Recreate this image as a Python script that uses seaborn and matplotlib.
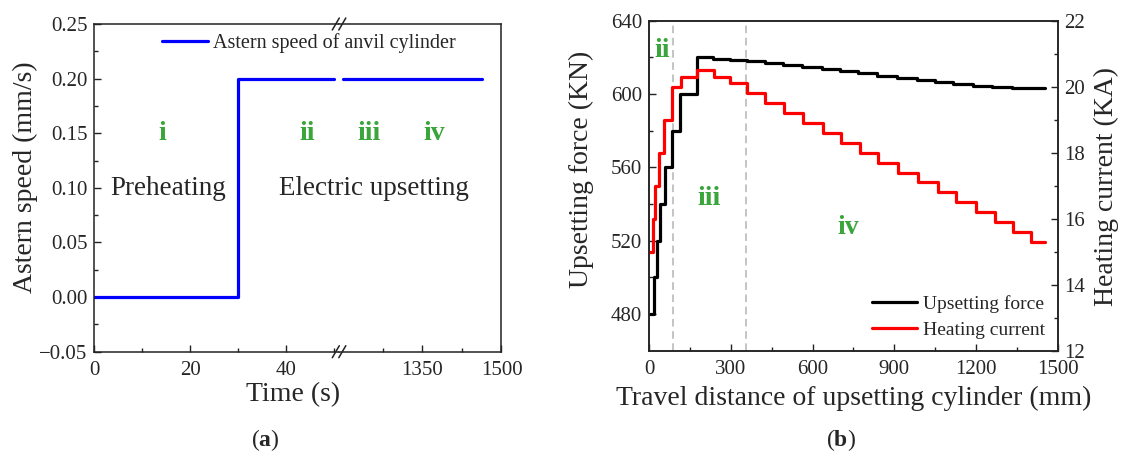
import numpy as np
import pandas as pd
import matplotlib
matplotlib.use("Agg")
import matplotlib.pyplot as plt
from matplotlib.lines import Line2D
from matplotlib.ticker import MultipleLocator, FixedLocator, FuncFormatter
import seaborn as sns

# ---------------- data ----------------
# panel (a): astern speed of anvil cylinder (broken time axis)
time_left = [0, 30, 50]
speed_left = [0.0, 0.2, 0.2]
time_right = [1200, 1463]
speed_right = [0.2, 0.2]

# panel (b): step curves vs travel distance
force_x = [2, 19, 30, 40, 57, 84, 113, 175, 236, 297, 358, 425, 493, 560, 634,
           701, 768, 836, 909, 983, 1050, 1117, 1191, 1258, 1332, 1455]
force = [480, 500, 520, 540, 560, 580, 600, 620, 619.3, 618.6, 617.8, 616.8,
         615.8, 614.7, 613.6, 612.6, 611.3, 610.0, 608.9, 607.8, 606.7, 605.6,
         604.5, 603.7, 603.1, 603.1]
current_x = [2, 13, 21, 36, 54, 85, 117, 177, 238, 297, 358, 425, 495, 566, 637,
             704, 775, 842, 915, 987, 1060, 1126, 1199, 1272, 1337, 1404, 1455]
current = [15.0, 16.0, 17.0, 18.0, 19.0, 20.0, 20.3, 20.5, 20.3, 20.1, 19.8,
           19.5, 19.2, 18.9, 18.6, 18.3, 18.0, 17.7, 17.4, 17.1, 16.8, 16.5,
           16.2, 15.9, 15.6, 15.3, 15.3]
stage_bounds = [86, 356]

# ---------------- style ----------------
sns.set_theme(style="ticks")
plt.rcParams["font.family"] = ["Liberation Serif", "DejaVu Serif"]
plt.rcParams["mathtext.fontset"] = "custom"
plt.rcParams["mathtext.rm"] = "Liberation Serif"
plt.rcParams["mathtext.bf"] = "Liberation Serif:bold"
plt.rcParams["axes.linewidth"] = 1.1
plt.rcParams["axes.edgecolor"] = "#222222"

W, H = 1121, 454
fig = plt.figure(figsize=(W / 100, H / 100), dpi=100)

def fx(px):
    return px / W

def fy(py):
    return 1 - py / H

GREEN = "#3aa53a"
TICK_FS = 15
LABEL_FS = 20

def style_ticks(ax):
    ax.tick_params(axis="both", which="major", direction="in", length=5, width=1.0,
                   labelsize=TICK_FS, pad=5, color="#222222")
    ax.tick_params(axis="x", which="major", pad=7)
    ax.tick_params(axis="both", which="minor", direction="in", length=3, width=1.0,
                   color="#222222")

# ---------------- panel (a) ----------------
a_left, a_break, a_right = 94.3, 339.3, 501.5
a_top, a_bot = 24.0, 351.7
ax1 = fig.add_axes([fx(a_left), fy(a_bot), fx(a_break - a_left), (a_bot - a_top) / H])
ax2 = fig.add_axes([fx(a_break), fy(a_bot), fx(a_right - a_break), (a_bot - a_top) / H])

df_al = pd.DataFrame({"t": time_left, "v": speed_left})
df_ar = pd.DataFrame({"t": time_right, "v": speed_right})
sns.lineplot(data=df_al, x="t", y="v", ax=ax1, color="#0000ff", lw=2.3,
             drawstyle="steps-post", estimator=None, sort=False, legend=False)
sns.lineplot(data=df_ar, x="t", y="v", ax=ax2, color="#0000ff", lw=2.3,
             drawstyle="steps-post", estimator=None, sort=False, legend=False)

for ax in (ax1, ax2):
    ax.set_ylim(-0.05, 0.25)
    style_ticks(ax)
    ax.set_xlabel("")
    ax.set_ylabel("")

ax1.set_xlim(0, 51)
ax1.xaxis.set_major_locator(FixedLocator([0, 20, 40]))
ax1.xaxis.set_minor_locator(FixedLocator([10, 30, 50]))
ax1.yaxis.set_major_locator(MultipleLocator(0.05))
ax1.yaxis.set_minor_locator(MultipleLocator(0.025))
ax1.yaxis.set_major_formatter(FuncFormatter(lambda v, p: f"{v:.2f}".replace("-", "\u2212")))
ax1.spines["right"].set_visible(False)
ax1.tick_params(top=False, right=False, which="both")

ax2.set_xlim(1193, 1500)
ax2.xaxis.set_major_locator(FixedLocator([1350, 1500]))
ax2.xaxis.set_minor_locator(FixedLocator([1275, 1425]))
ax2.spines["left"].set_visible(False)
ax2.tick_params(top=False, right=False, which="both")
ax2.tick_params(axis="y", which="both", left=False, right=False, labelleft=False)

# break marks
for py in (a_top, a_bot):
    for off in (-3.5, 3.0):
        cx = a_break + off
        fig.add_artist(Line2D([fx(cx - 3.5), fx(cx + 3.5)], [fy(py + 6), fy(py - 6)],
                              color="#222222", lw=1.1))

ax1.set_ylabel("Astern speed (mm/s)", fontsize=LABEL_FS)
ax1.yaxis.set_label_coords((25 - a_left) / (a_break - a_left), (a_bot - 177) / (a_bot - a_top))
ax1.yaxis.label.set_verticalalignment("center")
ax1.set_xlabel("Time (s)", fontsize=LABEL_FS)
ax1.xaxis.set_label_coords((293.3 - a_left) / (a_break - a_left), (a_bot - 395) / (a_bot - a_top))
ax1.xaxis.label.set_verticalalignment("center")

fig.legend(handles=[ax1.get_lines()[0]], labels=["Astern speed of anvil cylinder"],
           loc="center left", bbox_to_anchor=(fx(162), fy(43)), frameon=False,
           fontsize=14.5, handlelength=2.3, handletextpad=0.25,
           borderpad=0, borderaxespad=0)

ax1.text(14.1, 0.15, "i", color=GREEN, fontsize=20, fontweight="bold", ha="center", va="center")
ax1.text(44.4, 0.15, "ii", color=GREEN, fontsize=20, fontweight="bold", ha="center", va="center")
ax2.text(1249, 0.15, "iii", color=GREEN, fontsize=20, fontweight="bold", ha="center", va="center")
ax2.text(1372, 0.15, "iv", color=GREEN, fontsize=20, fontweight="bold", ha="center", va="center")
ax1.text(15.3, 0.099, "Preheating", fontsize=19.5, ha="center", va="center")
ax2.text(1258.6, 0.099, "Electric upsetting", fontsize=19.5, ha="center", va="center")

fig.text(fx(265), fy(440), r"($\mathbf{a}$)", fontsize=17, ha="center", va="center")

# ---------------- panel (b) ----------------
b_left, b_right, b_top, b_bot = 649.2, 1057.5, 20.7, 350.7
bx = fig.add_axes([fx(b_left), fy(b_bot), fx(b_right - b_left), (b_bot - b_top) / H])
bx2 = bx.twinx()

df_f = pd.DataFrame({"d": force_x, "f": force})
df_c = pd.DataFrame({"d": current_x, "c": current})
for xv in stage_bounds:
    bx.axvline(xv, color="#b4b4b4", lw=1.1, ls=(0, (5, 3)))
sns.lineplot(data=df_f, x="d", y="f", ax=bx, color="black", lw=2.3,
             drawstyle="steps-post", estimator=None, sort=False, legend=False)
sns.lineplot(data=df_c, x="d", y="c", ax=bx2, color="#ff0000", lw=2.3,
             drawstyle="steps-post", estimator=None, sort=False, legend=False)

bx.set_xlim(0, 1500)
bx.set_ylim(460, 640)
bx2.set_ylim(12, 22)
bx.xaxis.set_major_locator(MultipleLocator(300))
bx.xaxis.set_minor_locator(MultipleLocator(150))
bx.yaxis.set_major_locator(FixedLocator([480, 520, 560, 600, 640]))
bx.yaxis.set_minor_locator(FixedLocator([500, 540, 580, 620]))
bx2.yaxis.set_major_locator(MultipleLocator(2))
bx2.yaxis.set_minor_locator(MultipleLocator(1))
style_ticks(bx)
style_ticks(bx2)
bx.tick_params(top=False, right=False, which="both")
bx2.tick_params(top=False, left=False, which="both")

bx.set_ylabel("Upsetting force (KN)", fontsize=LABEL_FS)
bx.yaxis.set_label_coords((581.6 - b_left) / (b_right - b_left), (b_bot - 169) / (b_bot - b_top))
bx.yaxis.label.set_verticalalignment("center")
bx2.set_ylabel("Heating current (KA)", fontsize=LABEL_FS, rotation=90)
bx2.yaxis.set_label_coords((1106.8 - b_left) / (b_right - b_left), (b_bot - 186) / (b_bot - b_top))
bx2.yaxis.label.set_verticalalignment("center")
bx.set_xlabel("Travel distance of upsetting cylinder (mm)", fontsize=LABEL_FS)
bx.xaxis.set_label_coords((853.2 - b_left) / (b_right - b_left), (b_bot - 398) / (b_bot - b_top))
bx.xaxis.label.set_verticalalignment("center")

bx.text(49, 624, "ii", color=GREEN, fontsize=20, fontweight="bold", ha="center", va="center")
bx.text(221, 543, "iii", color=GREEN, fontsize=20, fontweight="bold", ha="center", va="center")
bx.text(730, 527, "iv", color=GREEN, fontsize=20, fontweight="bold", ha="center", va="center")

fig.legend(handles=[bx.get_lines()[-1], bx2.get_lines()[0]],
           labels=["Upsetting force", "Heating current"],
           loc="center left", bbox_to_anchor=(fx(872), fy(317)), frameon=False,
           fontsize=14, handlelength=2.3, handletextpad=0.3, labelspacing=0.4,
           borderpad=0, borderaxespad=0)

fig.text(fx(840.6), fy(440), r"($\mathbf{b}$)", fontsize=17, ha="center", va="center")

fig.savefig("out.png", dpi=100)
